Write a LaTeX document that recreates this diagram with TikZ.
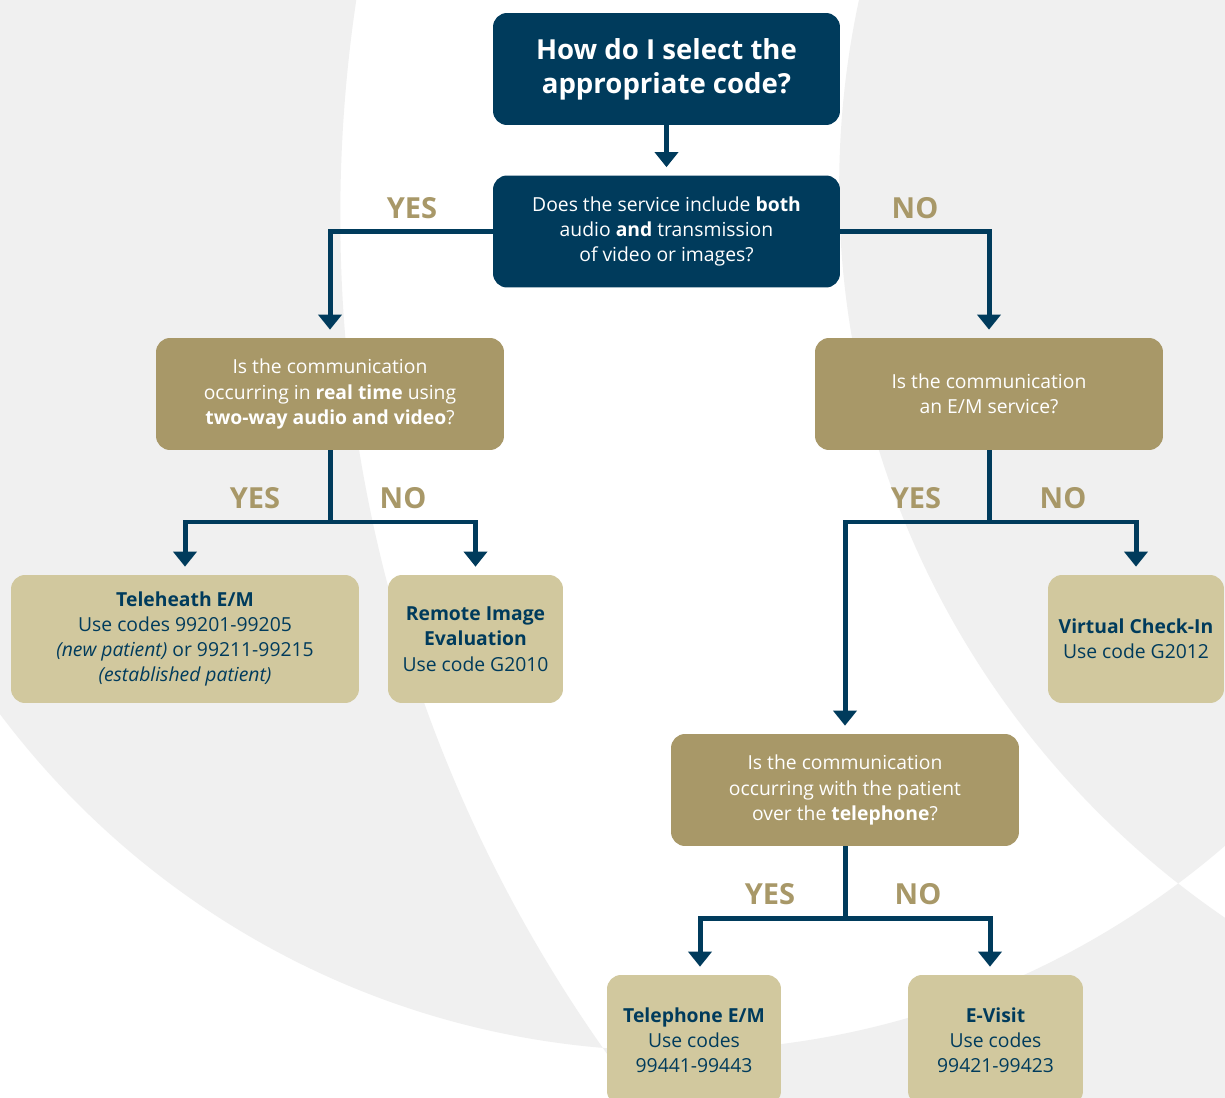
\documentclass[tikz,border=0pt]{standalone}
\usepackage{fontspec}
\setmainfont{Open Sans}
\usetikzlibrary{arrows.meta}

\definecolor{navy}{RGB}{0,59,92}
\definecolor{gold}{RGB}{168,152,104}
\definecolor{tan}{RGB}{209,200,158}
\definecolor{bggrey}{RGB}{240,240,240}
\newcommand{\boxfont}{\fontsize{11}{14.35}\selectfont}

\tikzset{
  box/.style={rounded corners=0.28cm, align=center, inner sep=0pt, minimum height=2.24cm, font=\boxfont},
  headbox/.style={box, fill=navy, text=white, minimum width=6.94cm},
  askbox/.style={box, fill=gold, text=white, minimum width=6.96cm},
  codebox/.style={box, fill=tan, text=navy, minimum height=2.56cm},
  ans/.style={text=gold, font=\bfseries\fontsize{16.5}{18}\selectfont},
  link/.style={navy, line width=0.1cm},
  arr/.style={link, -{Triangle[width=0.46cm,length=0.3cm]}, shorten >=0.16cm}
}

\begin{document}
\begin{tikzpicture}[x=0.02cm, y=-0.02cm]
  \useasboundingbox (0,0) rectangle (1225,1098);
  % background arcs
  \begin{scope}
    \clip (0,0) rectangle (1225,1098);
    \fill[white] (0,0) rectangle (1225,1098);
    \fill[bggrey, even odd rule] (674,208) circle[radius=16.86cm]
      (1789,216) circle[radius=28.98cm] (1724,187) circle[radius=17.7cm];
  \end{scope}

  % questions
  \node[headbox, font=\bfseries\fontsize{15.7}{19.3}\selectfont] (start) at (666.5,69) {How do I select the\\appropriate code?};
  \node[headbox] (both) at (666.5,231.5) {Does the service include \textbf{both}\\audio \textbf{and} transmission\\of video or images?};
  \node[askbox] (realtime) at (330,394) {Is the communication\\occurring in \textbf{real time} using\\\textbf{two-way audio and video}?};
  \node[askbox] (service) at (989,394) {Is the communication\\an E/M service?};
  \node[askbox] (phone) at (845,790) {Is the communication\\occurring with the patient\\over the \textbf{telephone}?};

  % codes
  \node[codebox, minimum width=6.96cm] (telehealth) at (185,639) {\textbf{Teleheath E/M}\\Use codes 99201-99205\\\textit{(new patient)} or 99211-99215\\\textit{(established patient)}};
  \node[codebox, minimum width=3.5cm] (remote) at (475.5,639) {\textbf{Remote Image}\\\textbf{Evaluation}\\Use code G2010};
  \node[codebox, minimum width=3.52cm] (checkin) at (1136,639) {\textbf{Virtual Check-In}\\Use code G2012};
  \node[codebox, minimum width=3.48cm, minimum height=2.6cm] (telephone) at (694,1040) {\textbf{Telephone E/M}\\Use codes\\99441-99443};
  \node[codebox, minimum width=3.5cm, minimum height=2.6cm] (evisit) at (995.5,1040) {\textbf{E-Visit}\\Use codes\\99421-99423};

  % connectors
  \coordinate (split1) at (330,522);
  \coordinate (split2) at (989,522);
  \coordinate (split3) at (845,918);
  \draw[arr] (start) -- (both);
  \draw[arr] (both.west) -| (realtime.north);
  \draw[arr] (both.east) -| (service.north);
  \draw[link] (realtime.south) -- (split1);
  \draw[arr] (split1) -| (telehealth.north);
  \draw[arr] (split1) -| (remote.north);
  \draw[link] (service.south) -- (split2);
  \draw[arr] (split2) -| (phone.north);
  \draw[arr] (split2) -| (checkin.north);
  \draw[link] (phone.south) -- (split3);
  \draw[arr] (split3) -| ([xshift=0.12cm]telephone.north);
  \draw[arr] (split3) -| ([xshift=-0.11cm]evisit.north);

  % answers
  \node[ans] (yes1) at (412,208) {YES};
  \node[ans] (no1) at (915,208) {NO};
  \node[ans] (yes2) at (255,498) {YES};
  \node[ans] (no2) at (403,498) {NO};
  \node[ans] (yes3) at (916,498) {YES};
  \node[ans] (no3) at (1063,498) {NO};
  \node[ans] (yes4) at (770,894) {YES};
  \node[ans] (no4) at (918,894) {NO};
\end{tikzpicture}
\end{document}
